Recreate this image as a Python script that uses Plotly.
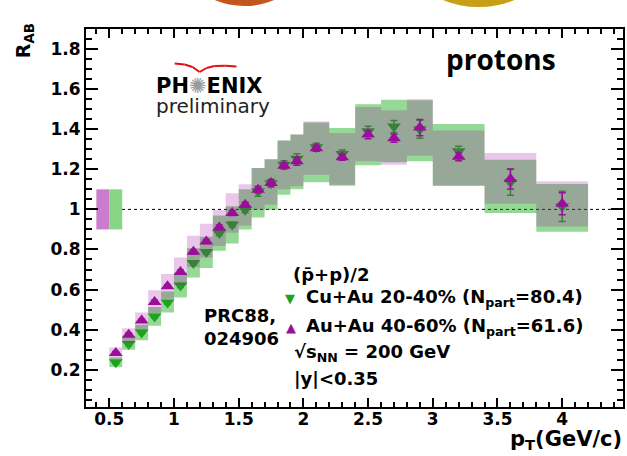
import plotly.graph_objects as go

# ---------------- data ----------------
# pT bin centres and half-widths (GeV/c)
pt = [0.55, 0.65, 0.75, 0.85, 0.95, 1.05, 1.15, 1.25, 1.35, 1.45, 1.55, 1.65,
      1.75, 1.85, 1.95, 2.1, 2.3, 2.5, 2.7, 2.9, 3.2, 3.6, 4.0]
pt_hw = [0.05, 0.05, 0.05, 0.05, 0.05, 0.05, 0.05, 0.05, 0.05, 0.05, 0.05, 0.05,
         0.05, 0.05, 0.05, 0.1, 0.1, 0.1, 0.1, 0.1, 0.2, 0.2, 0.2]

# Cu+Au 20-40 %  (p̄+p)/2  R_AB
cuau = [0.237, 0.328, 0.386, 0.466, 0.535, 0.620, 0.732, 0.787, 0.882, 0.924, 0.998, 1.090,
        1.130, 1.223, 1.253, 1.310, 1.276, 1.390, 1.414, 1.400, 1.290, 1.135, 1.015]
cuau_stat = [0.008, 0.008, 0.008, 0.008, 0.008, 0.010, 0.010, 0.010, 0.012, 0.012, 0.014, 0.025,
             0.020, 0.020, 0.025, 0.020, 0.020, 0.025, 0.030, 0.045, 0.025, 0.065, 0.075]
cuau_sys_lo = [0.213, 0.300, 0.347, 0.420, 0.485, 0.560, 0.660, 0.707, 0.794, 0.830, 0.900, 0.960,
               0.998, 1.073, 1.100, 1.135, 1.118, 1.220, 1.235, 1.240, 1.118, 0.982, 0.889]
cuau_sys_hi = [0.261, 0.366, 0.425, 0.513, 0.590, 0.685, 0.806, 0.864, 0.970, 1.016, 1.100, 1.206,
               1.250, 1.344, 1.373, 1.434, 1.406, 1.524, 1.547, 1.545, 1.426, 1.248, 1.127]

# Au+Au 40-60 %  (p̄+p)/2  R_AA
auau = [0.283, 0.375, 0.445, 0.538, 0.616, 0.688, 0.788, 0.840, 0.910, 0.982, 1.023, 1.098,
        1.132, 1.218, 1.240, 1.305, 1.260, 1.373, 1.355, 1.408, 1.263, 1.152, 1.028]
auau_stat = [0.008, 0.008, 0.008, 0.008, 0.008, 0.010, 0.010, 0.010, 0.012, 0.012, 0.012, 0.015,
             0.015, 0.015, 0.020, 0.015, 0.015, 0.020, 0.020, 0.040, 0.020, 0.050, 0.055]
auau_sys_lo = [0.255, 0.333, 0.397, 0.482, 0.554, 0.622, 0.711, 0.760, 0.817, 0.884, 0.920, 0.998,
               1.023, 1.100, 1.115, 1.173, 1.123, 1.240, 1.223, 1.268, 1.118, 1.028, 0.915]
auau_sys_hi = [0.311, 0.407, 0.485, 0.596, 0.678, 0.760, 0.869, 0.928, 0.997, 1.080, 1.125, 1.206,
               1.250, 1.344, 1.373, 1.439, 1.381, 1.511, 1.494, 1.551, 1.394, 1.281, 1.140]

# global normalisation uncertainties drawn at unity
norm_x_lo = [0.40, 0.50]          # Au+Au, Cu+Au
norm_x_hi = [0.50, 0.60]
norm_lo = [0.90, 0.90]
norm_hi = [1.10, 1.10]

x_range = [0.32, 4.47]
y_range = [0.014, 1.90]

# ---------------- styling ----------------
W, H = 627, 456
M = dict(l=86, r=2, t=29, b=49)
GREEN_BOX = "rgba(0,160,0,0.41)"
PINK_BOX = "rgba(160,0,160,0.22)"
GREEN_MK = "#1fa31f"
PURPLE_MK = "#9a0f9a"
FONT = "DejaVu Sans"


def px(xp):
    return (xp - M["l"]) / (W - M["l"] - M["r"])


def py(yp):
    return (H - M["b"] - yp) / (H - M["t"] - M["b"])


def box_polys(xc, hw, lo, hi):
    xs, ys = [], []
    for c, h, a, b in zip(xc, hw, lo, hi):
        xs += [c - h, c + h, c + h, c - h, c - h, None]
        ys += [a, a, b, b, a, None]
    return xs, ys


def rect_polys(x0s, x1s, lo, hi):
    xs, ys = [], []
    for a0, a1, b0, b1 in zip(x0s, x1s, lo, hi):
        xs += [a0, a1, a1, a0, a0, None]
        ys += [b0, b0, b1, b1, b0, None]
    return xs, ys


fig = go.Figure()

# Cu+Au systematic boxes (bottom layer)
gx, gy = box_polys(pt, pt_hw, cuau_sys_lo, cuau_sys_hi)
fig.add_trace(go.Scatter(x=gx, y=gy, mode="lines", fill="toself", fillcolor=GREEN_BOX,
                         line=dict(width=0, color="rgba(0,0,0,0)"), hoverinfo="skip"))

# Cu+Au points
fig.add_trace(go.Scatter(
    x=pt, y=cuau, mode="markers",
    marker=dict(symbol="triangle-down", size=12, color=GREEN_MK, line=dict(width=0)),
    error_y=dict(type="data", array=cuau_stat, color=GREEN_MK, thickness=1.5, width=3.5)))

# Au+Au systematic boxes, translucent over the Cu+Au layer
mx, my = box_polys(pt, pt_hw, auau_sys_lo, auau_sys_hi)
fig.add_trace(go.Scatter(x=mx, y=my, mode="lines", fill="toself", fillcolor=PINK_BOX,
                         line=dict(width=0, color="rgba(0,0,0,0)"), hoverinfo="skip"))

# Au+Au points
fig.add_trace(go.Scatter(
    x=pt, y=auau, mode="markers",
    marker=dict(symbol="triangle-up", size=12, color=PURPLE_MK, line=dict(width=0)),
    error_y=dict(type="data", array=auau_stat, color=PURPLE_MK, thickness=1.5, width=3.5)))

# normalisation boxes
nx, ny = rect_polys(norm_x_lo[:1], norm_x_hi[:1], norm_lo[:1], norm_hi[:1])
fig.add_trace(go.Scatter(x=nx, y=ny, mode="lines", fill="toself", fillcolor="#cc7ccc",
                         line=dict(width=0, color="rgba(0,0,0,0)"), hoverinfo="skip"))
nx, ny = rect_polys(norm_x_lo[1:], norm_x_hi[1:], norm_lo[1:], norm_hi[1:])
fig.add_trace(go.Scatter(x=nx, y=ny, mode="lines", fill="toself", fillcolor="#86d686",
                         line=dict(width=0, color="rgba(0,0,0,0)"), hoverinfo="skip"))

# unity reference line
fig.add_hline(y=1, line=dict(color="black", width=1, dash="dot"), layer="below")

axis_common = dict(
    showline=True, linecolor="black", linewidth=2, mirror="allticks",
    ticks="inside", tickcolor="black", tickwidth=1.5,
    showgrid=False, zeroline=False,
    tickfont=dict(family=FONT, size=17, color="black", weight="bold"),
)
fig.update_xaxes(range=x_range, tick0=0.5, dtick=0.5, ticklen=9, ticklabelstandoff=-4,
                 minor=dict(dtick=0.1, ticks="inside", ticklen=5, tickwidth=1.5, tickcolor="black"),
                 **axis_common)
fig.update_yaxes(range=y_range, tick0=0.2, dtick=0.2, ticklen=12, ticklabelstandoff=0,
                 minor=dict(dtick=0.05, ticks="inside", ticklen=6, tickwidth=1.5, tickcolor="black"),
                 **axis_common)

ann = []


def text(x, y, s, size=18, color="black", weight="bold", family=FONT, xanchor="left",
         yanchor="middle", angle=0, align="left"):
    ann.append(dict(x=px(x), y=py(y), xref="paper", yref="paper", text=s, showarrow=False,
                    xanchor=xanchor, yanchor=yanchor, textangle=angle, align=align,
                    font=dict(family=family, size=size, color=color, weight=weight)))


# axis titles
text(24, 41, "R<sub>AB</sub>", size=19, xanchor="center", angle=-90)
text(626, 440, "p<sub>T</sub>(GeV/c)", size=21, xanchor="right")

# species label
text(503, 59, "protons", size=28, family="Open Sans", xanchor="center")

# legend
text(292, 274, "(p\u0304+p)/2")
text(291, 298, "\u25BC", size=13, color=GREEN_MK, xanchor="center")
text(305, 298, "Cu+Au 20-40% (N<sub>part</sub>=80.4)")
text(292, 327, "\u25B2", size=13, color=PURPLE_MK, xanchor="center")
text(305, 327, "Au+Au 40-60% (N<sub>part</sub>=61.6)")
text(293, 353, "\u221As<sub>NN</sub> = 200 GeV")
text(293, 378, "|y|&lt;0.35")
text(202, 327, "PRC88,<br>024906", size=18)

# PHENIX preliminary logo
text(154, 86, "PH<span style='color:#9a9a9a;font-weight:normal'>\u273A</span>ENIX", size=21)
text(154, 106, "preliminary", size=20, weight="normal", color="#222222")

shapes = []

# red swoosh over the logo, built from short line segments in paper units
arc_px = [(165, 64), (175, 63.5), (185, 64.5), (193, 67), (200, 72),
          (207, 68), (215, 66), (226, 65.8), (237, 66.5)]
for (a0, b0), (a1, b1) in zip(arc_px[:-1], arc_px[1:]):
    shapes.append(dict(type="line", xref="paper", yref="paper", layer="above",
                       x0=px(a0), y0=py(b0), x1=px(a1), y1=py(b1),
                       line=dict(color="#e01010", width=2)))

# partial round ornaments along the top edge
shapes += [
    dict(type="circle", xref="paper", yref="paper", layer="above",
         x0=px(245 - 78), x1=px(245 + 78), y0=py(6), y1=py(6 - 156),
         fillcolor="#c4561c", line=dict(width=0)),
    dict(type="circle", xref="paper", yref="paper", layer="above",
         x0=px(480 - 96), x1=px(480 + 96), y0=py(7), y1=py(7 - 192),
         fillcolor="#c8a018", line=dict(width=0)),
]

fig.update_layout(
    width=W, height=H, margin=M,
    paper_bgcolor="white", plot_bgcolor="white",
    showlegend=False, annotations=ann, shapes=shapes,
)

fig.write_html("out.html")
